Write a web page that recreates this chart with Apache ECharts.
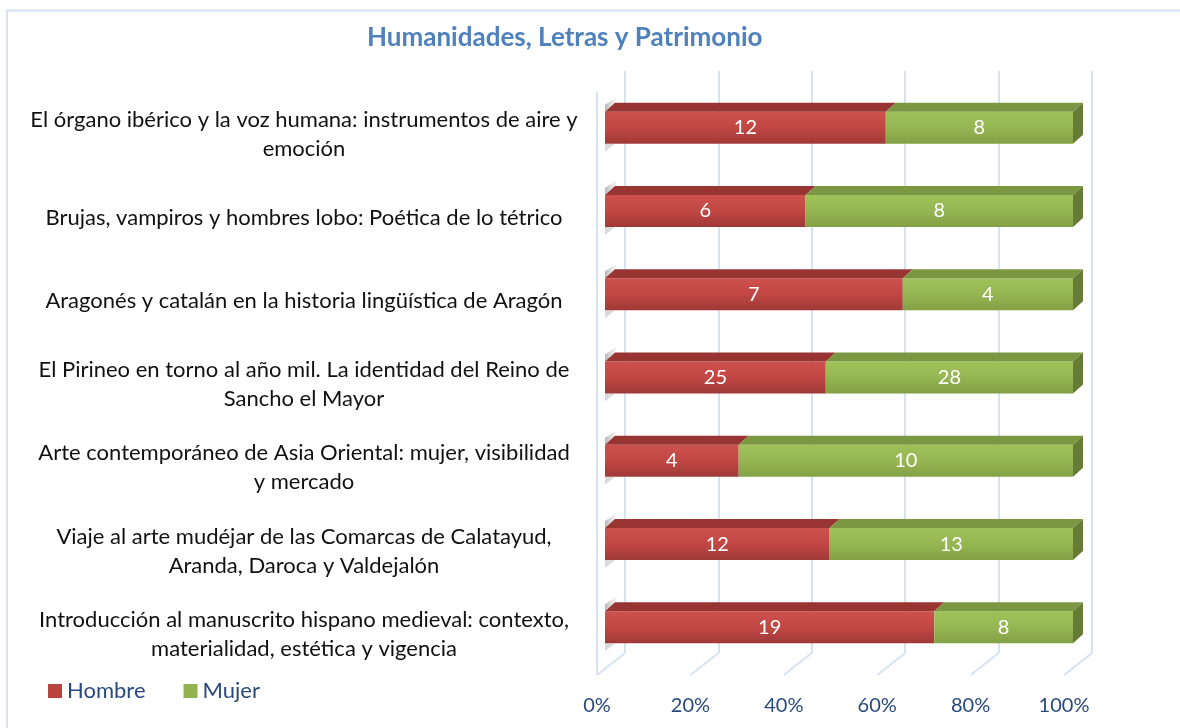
<!DOCTYPE html>
<html>
<head>
<meta charset="utf-8">
<script src="https://cdn.jsdelivr.net/npm/echarts@6/dist/echarts.min.js"></script>
<style>
html,body{margin:0;padding:0;background:#fff;}
#chart{width:1180px;height:728px;}
</style>
</head>
<body>
<div id="chart"></div>
<script>
const categories = [
  "El órgano ibérico y la voz humana: instrumentos de aire y\nemoción",
  "Brujas, vampiros y hombres lobo: Poética de lo tétrico",
  "Aragonés y catalán en la historia lingüística de Aragón",
  "El Pirineo en torno al año mil. La identidad del Reino de\nSancho el Mayor",
  "Arte contemporáneo de Asia Oriental: mujer, visibilidad\ny mercado",
  "Viaje al arte mudéjar de las Comarcas de Calatayud,\nAranda, Daroca y Valdejalón",
  "Introducción al manuscrito hispano medieval: contexto,\nmaterialidad, estética y vigencia"
];
const hombre = [12, 6, 7, 25, 4, 12, 19];
const mujer  = [8, 8, 4, 28, 10, 13, 8];
const seriesNames = ["Hombre", "Mujer"];
const xTicks = [0, 20, 40, 60, 80, 100];
const titleText = "Humanidades, Letras y Patrimonio";

const pctH = hombre.map((h, i) => h / (h + mujer[i]) * 100);
const pctM = mujer.map((m, i) => m / (hombre[i] + m) * 100);

const FONT = "Lato";
const GRIDC = "#d6e3f3";
const BARH = 32, DX = 10, DY = 9;

function grad(stops) {
  return { type: 'linear', x: 0, y: 0, x2: 0, y2: 1,
    colorStops: stops.map(s => ({ offset: s[0], color: s[1] })) };
}
const redFront = grad([[0, '#cd514d'], [0.5, '#c24744'], [1, '#9e3937']]);
const greenFront = grad([[0, '#9fc25a'], [0.5, '#96b653'], [1, '#83a045']]);

const chart = echarts.init(document.getElementById('chart'), null, { renderer: 'canvas' });

const option = {
  backgroundColor: '#ffffff',
  animation: false,
  title: {
    text: titleText, left: 362, top: 20,
    textStyle: { fontFamily: FONT, fontWeight: 'bold', fontSize: 26, color: '#4f81bd' }
  },
  graphic: [{
    type: 'rect', shape: { x: 7, y: 10.5, width: 1300, height: 900 },
    style: { fill: 'none', stroke: GRIDC, lineWidth: 2 }, silent: true, z: -10
  }],
  legend: {
    left: 43, top: 675, itemWidth: 14, itemHeight: 14, itemGap: 38,
    icon: 'rect',
    textStyle: { fontFamily: FONT, fontSize: 22, color: '#284a7c' },
    data: [
      { name: seriesNames[0], itemStyle: { color: '#b8433f' } },
      { name: seriesNames[1], itemStyle: { color: '#93b252' } }
    ]
  },
  grid: [
    { left: 605, right: 107, top: 86, bottom: 59, outerBoundsMode: 'none' },
    { left: 625, right: 88, top: 71, bottom: 75, outerBoundsMode: 'none' },
    { left: 597, right: 116, top: 93, bottom: 52, outerBoundsMode: 'none' }
  ],
  xAxis: [
    { gridIndex: 0, type: 'value', min: 0, max: 100, interval: 20, show: false },
    { gridIndex: 1, type: 'value', min: 0, max: 100, interval: 20,
      axisLine: { show: false }, axisTick: { show: false }, axisLabel: { show: false },
      splitLine: { show: true, lineStyle: { color: GRIDC, width: 2 } } },
    { gridIndex: 2, type: 'value', min: 0, max: 100, interval: 20,
      axisLine: { show: false }, axisTick: { show: false }, splitLine: { show: false },
      axisLabel: { show: true, margin: 20, fontFamily: FONT, fontSize: 20, color: '#284a7c',
        formatter: v => v + '%' } }
  ],
  yAxis: [
    { gridIndex: 0, type: 'category', data: categories, inverse: true, show: false },
    { gridIndex: 1, type: 'value', min: 0, max: 1, show: false },
    { gridIndex: 2, type: 'category', data: categories, inverse: true,
      axisLine: { show: false }, axisTick: { show: false }, splitLine: { show: false },
      axisLabel: { margin: 293, align: 'center', fontFamily: FONT, fontSize: 22,
        lineHeight: 29, color: '#111111' } }
  ],
  series: [
    {
      name: 'floor', type: 'custom', xAxisIndex: 1, yAxisIndex: 1, silent: true, z: 0,
      data: xTicks.map(v => [v, 0]),
      encode: { x: 0, y: 1 },
      renderItem: function (params, api) {
        const v = api.value(0);
        const p = api.coord([v, 0]);
        const top = api.coord([v, 1]);
        const children = [{
          type: 'line',
          shape: { x1: p[0], y1: p[1], x2: p[0] - 28, y2: p[1] + 22 },
          style: { stroke: GRIDC, lineWidth: 2 }
        }];
        if (v === 0) {
          children.push({
            type: 'line',
            shape: { x1: p[0] - 28, y1: p[1] + 22, x2: p[0] - 28, y2: top[1] + 21 },
            style: { stroke: GRIDC, lineWidth: 2 }
          });
        }
        return { type: 'group', children: children };
      }
    },
    {
      name: seriesNames[0], type: 'bar', stack: 'total', xAxisIndex: 0, yAxisIndex: 0,
      barWidth: BARH, z: 3,
      data: pctH,
      itemStyle: { color: redFront },
      label: { show: true, position: 'inside', color: '#ffffff', fontFamily: FONT, fontSize: 20,
        formatter: p => String(hombre[p.dataIndex]) }
    },
    {
      name: seriesNames[1], type: 'bar', stack: 'total', xAxisIndex: 0, yAxisIndex: 0,
      barWidth: BARH, z: 3,
      data: pctM,
      itemStyle: { color: greenFront },
      label: { show: true, position: 'inside', color: '#ffffff', fontFamily: FONT, fontSize: 20,
        formatter: p => String(mujer[p.dataIndex]) }
    },
    {
      name: 'faces', type: 'custom', xAxisIndex: 0, yAxisIndex: 0, silent: true, z: 4,
      data: categories.map((c, i) => [pctH[i], i]),
      encode: { x: 0, y: 1 },
      renderItem: function (params, api) {
        const i = params.dataIndex;
        const a = api.coord([0, i]);
        const b = api.coord([pctH[i], i]);
        const c = api.coord([100, i]);
        const yt = a[1] - BARH / 2, yb = a[1] + BARH / 2;
        const x0 = a[0], x1 = b[0], x2 = c[0];
        return {
          type: 'group',
          children: [
            { type: 'polygon', shape: { points: [[x0, yt], [x0, yt - 7], [x0 + 12, yt - 15], [x0 + DX, yt - DY]] },
              style: { fill: { type: 'linear', x: 0, y: 0, x2: 1, y2: 0,
                colorStops: [{ offset: 0, color: 'rgba(120,120,120,0.55)' }, { offset: 1, color: 'rgba(200,200,200,0.15)' }] } } },
            { type: 'polygon', shape: { points: [[x0, yb], [x0, yb + 8], [x0 + 10, yb]] },
              style: { fill: 'rgba(150,150,150,0.35)' } },
            { type: 'polygon', shape: { points: [[x0, yt], [x1, yt], [x1 + DX, yt - DY], [x0 + DX, yt - DY]] },
              style: { fill: '#983533' } },
            { type: 'polygon', shape: { points: [[x1, yt], [x2, yt], [x2 + DX, yt - DY], [x1 + DX, yt - DY]] },
              style: { fill: '#7c9742' } },
            { type: 'polygon', shape: { points: [[x2, yt], [x2 + DX, yt - DY], [x2 + DX, yb - DY], [x2, yb]] },
              style: { fill: '#667b35' } }
          ]
        };
      }
    }
  ]
};
chart.setOption(option);
</script>
</body>
</html>
